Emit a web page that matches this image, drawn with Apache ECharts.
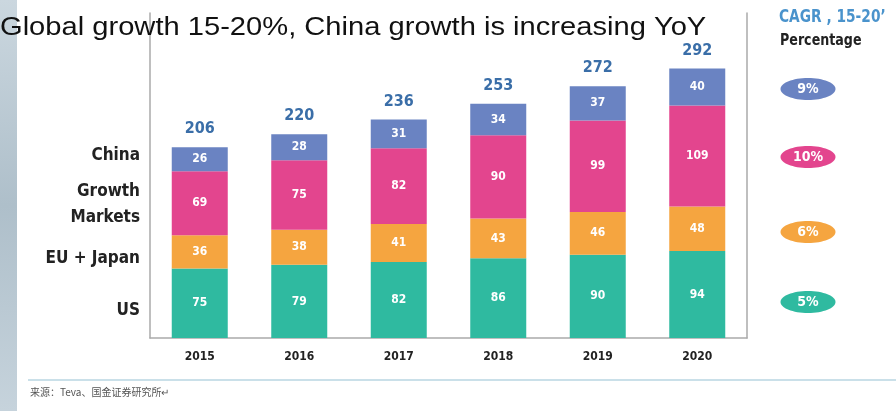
<!DOCTYPE html>
<html><head><meta charset="utf-8">
<script src="https://cdn.jsdelivr.net/npm/echarts@6/dist/echarts.min.js"></script>
<style>html,body{margin:0;padding:0;background:#fff}#c{width:896px;height:411px}</style>
</head><body><div id="c"></div>
<script>
const years = ['2015','2016','2017','2018','2019','2020'];
const us = [75,79,82,86,90,94];
const euJapan = [36,38,41,43,46,48];
const growthMarkets = [69,75,82,90,99,109];
const china = [26,28,31,34,37,40];
const totals = [206,220,236,253,272,292];
const seriesNames = ['US','EU + Japan','Growth Markets','China'];
const cagr = ['5%','6%','10%','9%'];
const colors = ['#2fbaa0','#f5a540','#e3458e','#6a83c2'];

const NARROW = "'Liberation Sans Narrow','DejaVu Sans Condensed','Roboto Condensed',sans-serif";
const chart = echarts.init(document.getElementById('c'), null, {renderer:'canvas'});

const valueSets = [us, euJapan, growthMarkets, china];
const series = valueSets.map((vals,i)=>({
  name: seriesNames[i], type:'bar', stack:'s', data: vals, barWidth:56,
  itemStyle:{color: colors[i]},
  label:{show:true, position:'inside', color:'#fff', fontFamily:NARROW, fontWeight:'bold', fontSize:12},
  silent:true
}));
series.push({
  name:'total', type:'bar', stack:'s', data: totals.map(()=>0), barWidth:56,
  itemStyle:{color:'transparent'},
  label:{show:true, position:'top', distance:10, formatter:p=>totals[p.dataIndex],
    color:'#3a6ea8', fontFamily:NARROW, fontWeight:'bold', fontSize:16}
});

const leftLabelStyle = {fontFamily:NARROW, fontWeight:'bold', fontSize:17, fill:'#222', textAlign:'right', textVerticalAlign:'middle'};
const pillY = [302,232,157,89];
const graphic = [
  {type:'rect', left:0, top:0, shape:{width:17, height:411}, silent:true, z:-1,
    style:{fill:new echarts.graphic.LinearGradient(0,0,0,1,[{offset:0,color:'#cbd7df'},{offset:0.5,color:'#aebfca'},{offset:1,color:'#c6d3dc'}])}},
  {type:'text', x:0, y:28, scaleX:1.12, z:10, style:{text:'Global growth 15-20%, China growth is increasing YoY',
    fontFamily:"'Liberation Sans',Arial,sans-serif", fontSize:26, fill:'#111', textVerticalAlign:'middle'}},
  {type:'line', shape:{x1:28,y1:380,x2:896,y2:380}, style:{stroke:'#b8d6e2', lineWidth:1.5}},
  {type:'text', x:30, y:392, style:{text:'来源：Teva、国金证券研究所↵', fontFamily:"'Noto Sans CJK SC',sans-serif", fontSize:10, fill:'#555', textVerticalAlign:'middle'}},
  {type:'text', x:140, y:156, style:Object.assign({text:'China'}, leftLabelStyle)},
  {type:'text', x:140, y:192, style:Object.assign({text:'Growth'}, leftLabelStyle)},
  {type:'text', x:140, y:218, style:Object.assign({text:'Markets'}, leftLabelStyle)},
  {type:'text', x:140, y:259, style:Object.assign({text:'EU + Japan'}, leftLabelStyle)},
  {type:'text', x:140, y:311, style:Object.assign({text:'US'}, leftLabelStyle)},
  {type:'text', x:779, y:17, scaleX:0.85, style:{text:'CAGR , 15-20\u2019', fontFamily:NARROW, fontWeight:'bold', fontSize:18, fill:'#4a93cc', textVerticalAlign:'middle'}},
  {type:'text', x:780, y:41, scaleX:0.88, style:{text:'Percentage', fontFamily:NARROW, fontWeight:'bold', fontSize:16, fill:'#222', textVerticalAlign:'middle'}}
];
cagr.forEach((t,i)=>{
  graphic.push({type:'ellipse', shape:{cx:808, cy:pillY[i], rx:27.5, ry:11}, style:{fill:colors[i]}});
  graphic.push({type:'text', x:808, y:pillY[i], style:{text:t, fontFamily:NARROW, fontWeight:'bold', fontSize:14, fill:'#fff', textAlign:'center', textVerticalAlign:'middle'}});
});

chart.setOption({
  animation:false,
  backgroundColor:'#fff',
  grid:{left:150, right:149, top:13, bottom:73},
  xAxis:{type:'category', data:years, axisTick:{show:false},
    axisLine:{lineStyle:{color:'#aaa', width:1.5}},
    axisLabel:{margin:13, color:'#222', fontFamily:NARROW, fontWeight:'bold', fontSize:12}},
  yAxis:[
    {type:'value', min:0, max:351, splitLine:{show:false}, axisLabel:{show:false}, axisTick:{show:false},
      axisLine:{show:true, lineStyle:{color:'#aaa', width:1.5}}},
    {type:'value', min:0, max:351, position:'right', splitLine:{show:false}, axisLabel:{show:false}, axisTick:{show:false},
      axisLine:{show:true, lineStyle:{color:'#aaa', width:1.5}}}
  ],
  series: series,
  graphic: graphic
});
</script></body></html>
